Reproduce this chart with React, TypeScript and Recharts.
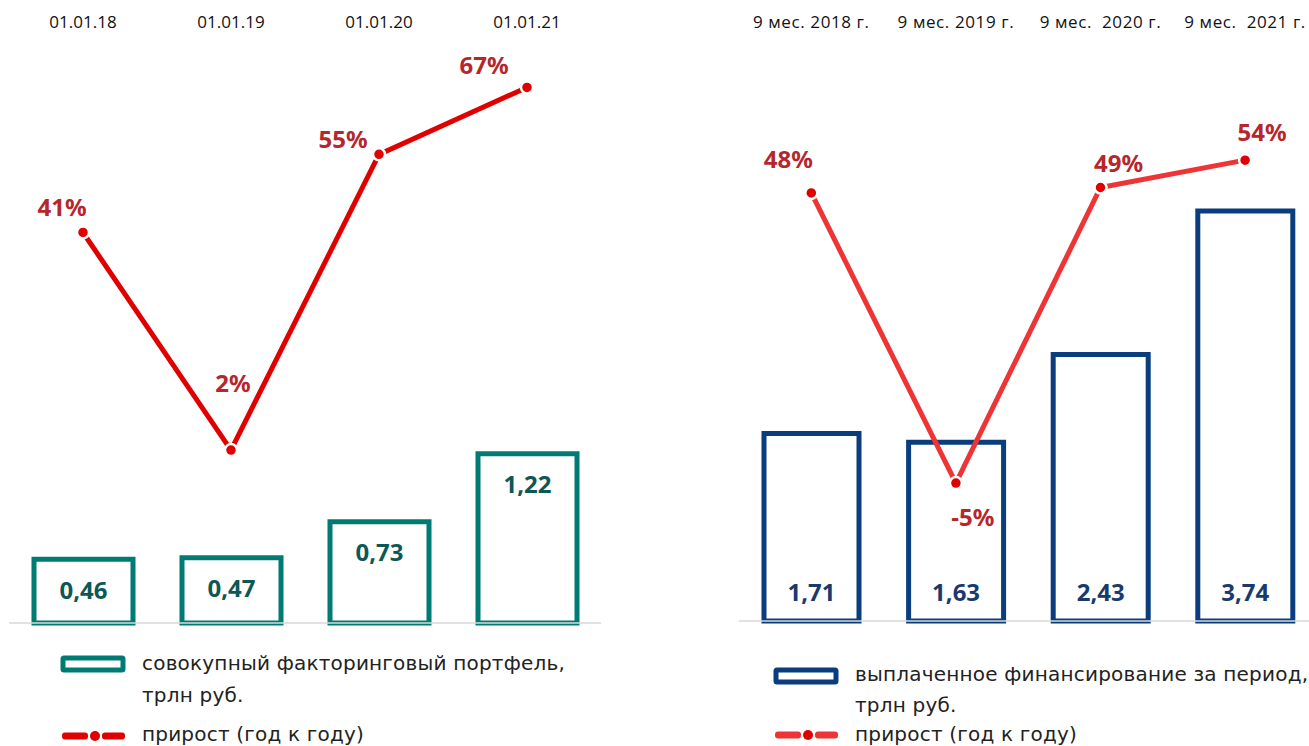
import React from 'react';
import { ComposedChart, Bar, Line, XAxis, YAxis, ReferenceLine, LabelList } from 'recharts';

const leftCategories = ['01.01.18', '01.01.19', '01.01.20', '01.01.21'];
const leftPortfolio = [0.46, 0.47, 0.73, 1.22];
const leftPortfolioLabels = ['0,46', '0,47', '0,73', '1,22'];
const leftGrowth = [41, 2, 55, 67];

const rightCategories = ['9 мес. 2018 г.', '9 мес. 2019 г.', '9 мес.\u00a0 2020 г.', '9 мес.\u00a0 2021 г.'];
const rightFinancing = [1.71, 1.63, 2.43, 3.74];
const rightFinancingLabels = ['1,71', '1,63', '2,43', '3,74'];
const rightGrowth = [48, -5, 49, 54];

const leftLegend = ['совокупный факторинговый портфель,', 'трлн руб.', 'прирост (год к году)'];
const rightLegend = ['выплаченное финансирование за период,', 'трлн руб.', 'прирост (год к году)'];

const leftData = leftCategories.map((c, i) => ({ cat: c, bar: leftPortfolio[i], barLabel: leftPortfolioLabels[i], growth: leftGrowth[i] }));
const rightData = rightCategories.map((c, i) => ({ cat: c, bar: rightFinancing[i], barLabel: rightFinancingLabels[i], growth: rightGrowth[i] }));

// label offsets (style only)
const leftOffsets = [[-21, -26], [2, -68], [-36, -16], [-43, -23]];
const rightOffsets = [[-23, -34], [17, 33], [18, -25], [17, -29]];

const FONT = '"Noto Sans", "Open Sans", sans-serif';
const LEGEND_FONT = '"DejaVu Sans", "Noto Sans", sans-serif';
const LABEL_RED = '#b5272d';

const makeTopTick = (spacing: number) => (props: any) => {
  const { x, payload } = props;
  return (
    <text x={x} y={28} textAnchor="middle" fontSize={17} letterSpacing={spacing} fill="#111" fontFamily={'"Open Sans", sans-serif'}>
      {payload.value}
    </text>
  );
};

const makePctLabel = (offsets: number[][]) => (props: any) => {
  const { x, y, value, index } = props;
  const off = offsets[index] || [0, -20];
  return (
    <text x={x + off[0]} y={y + off[1]} textAnchor="middle" dominantBaseline="central" fontSize={24} fontWeight={700} fill={LABEL_RED} fontFamily={FONT}>
      {value}%
    </text>
  );
};

const makeDot = (fill: string) => (props: any) => {
  const { cx, cy, index } = props;
  return <circle key={index} cx={cx} cy={cy} r={6} fill={fill} stroke="#fff" strokeWidth={2.5} />;
};

const makeBarLabel = (color: string, mode: 'top' | 'bottom', baseY: number) => (props: any) => {
  const { x, y, width, value } = props;
  const ty = mode === 'top' ? y + 30 : baseY - 30;
  return (
    <text x={x + width / 2} y={ty} textAnchor="middle" dominantBaseline="central" fontSize={24} fontWeight={700} fill={color} fontFamily={FONT}>
      {value}
    </text>
  );
};

const DashDotIcon = ({ color, dot }: { color: string; dot: string }) => (
  <svg width={70} height={12} style={{ display: 'block' }}>
    <rect x={3} y={2.5} width={26} height={7} rx={3} fill={color} />
    <circle cx={36} cy={6} r={5} fill={dot} />
    <rect x={43} y={2.5} width={23} height={7} rx={3} fill={color} />
  </svg>
);

const RectIcon = ({ color }: { color: string }) => (
  <svg width={66} height={18} style={{ display: 'block' }}>
    <rect x={3} y={3} width={60} height={12} fill="#fff" stroke={color} strokeWidth={5} rx={1} />
  </svg>
);

const legendText: React.CSSProperties = {
  position: 'absolute',
  fontFamily: LEGEND_FONT,
  fontSize: 20,
  letterSpacing: 0.2,
  color: '#222',
  whiteSpace: 'nowrap',
  lineHeight: '22px',
};

export default function App() {
  const TEAL = '#007b73';
  const NAVY = '#0a3d7e';
  return (
    <div style={{ position: 'fixed', left: 0, top: 0, width: 1309, height: 746, overflow: 'hidden', background: '#fff' }}>
      {/* Left chart */}
      <div style={{ position: 'absolute', left: 0, top: 0 }}>
        <ComposedChart width={620} height={746} data={leftData} margin={{ top: 0, right: 19, bottom: 123, left: 9 }}>
          <XAxis dataKey="cat" orientation="top" height={40} axisLine={false} tickLine={false} tick={makeTopTick(0)} interval={0} />
          <YAxis yAxisId="bar" hide domain={[0, 4.2]} />
          <YAxis yAxisId="pct" hide orientation="right" domain={[-29, 75.5]} />
          <ReferenceLine yAxisId="bar" y={0} stroke="#d9d9d9" strokeWidth={1.5} />
          <Bar yAxisId="bar" dataKey="bar" barSize={99} fill="#fff" stroke={TEAL} strokeWidth={5} isAnimationActive={false}>
            <LabelList dataKey="barLabel" content={makeBarLabel('#0d5856', 'top', 623)} />
          </Bar>
          <Line yAxisId="pct" dataKey="growth" stroke="#e00000" strokeWidth={5} dot={makeDot('#e00000')} activeDot={false} isAnimationActive={false}>
            <LabelList dataKey="growth" content={makePctLabel(leftOffsets)} />
          </Line>
        </ComposedChart>
      </div>
      {/* Right chart */}
      <div style={{ position: 'absolute', left: 660, top: 0 }}>
        <ComposedChart width={660} height={746} data={rightData} margin={{ top: 0, right: 2.6, bottom: 125, left: 79 }}>
          <XAxis dataKey="cat" orientation="top" height={40} axisLine={false} tickLine={false} tick={makeTopTick(0.6)} interval={0} />
          <YAxis yAxisId="bar" hide domain={[0, 5.3]} />
          <YAxis yAxisId="pct" hide orientation="right" domain={[-30.2, 75.95]} />
          <ReferenceLine yAxisId="bar" y={0} stroke="#d9d9d9" strokeWidth={1.5} />
          <Bar yAxisId="bar" dataKey="bar" barSize={95} fill="#fff" stroke={NAVY} strokeWidth={5} isAnimationActive={false}>
            <LabelList dataKey="barLabel" content={makeBarLabel('#1b3a6c', 'bottom', 621)} />
          </Bar>
          <Line yAxisId="pct" dataKey="growth" stroke="#ee3434" strokeWidth={5} dot={makeDot('#e00000')} activeDot={false} isAnimationActive={false}>
            <LabelList dataKey="growth" content={makePctLabel(rightOffsets)} />
          </Line>
        </ComposedChart>
      </div>

      {/* Left legend */}
      <div style={{ position: 'absolute', left: 60, top: 655 }}><RectIcon color={TEAL} /></div>
      <div style={{ ...legendText, left: 142, top: 652 }}>{leftLegend[0]}</div>
      <div style={{ ...legendText, left: 142, top: 684 }}>{leftLegend[1]}</div>
      <div style={{ position: 'absolute', left: 59, top: 730 }}><DashDotIcon color="#e00000" dot="#e00000" /></div>
      <div style={{ ...legendText, left: 142, top: 723 }}>{leftLegend[2]}</div>

      {/* Right legend */}
      <div style={{ position: 'absolute', left: 773, top: 667 }}><RectIcon color={NAVY} /></div>
      <div style={{ ...legendText, left: 855, top: 663 }}>{rightLegend[0]}</div>
      <div style={{ ...legendText, left: 855, top: 694 }}>{rightLegend[1]}</div>
      <div style={{ position: 'absolute', left: 772, top: 729 }}><DashDotIcon color="#ee3434" dot="#e00000" /></div>
      <div style={{ ...legendText, left: 855, top: 723 }}>{rightLegend[2]}</div>
    </div>
  );
}
